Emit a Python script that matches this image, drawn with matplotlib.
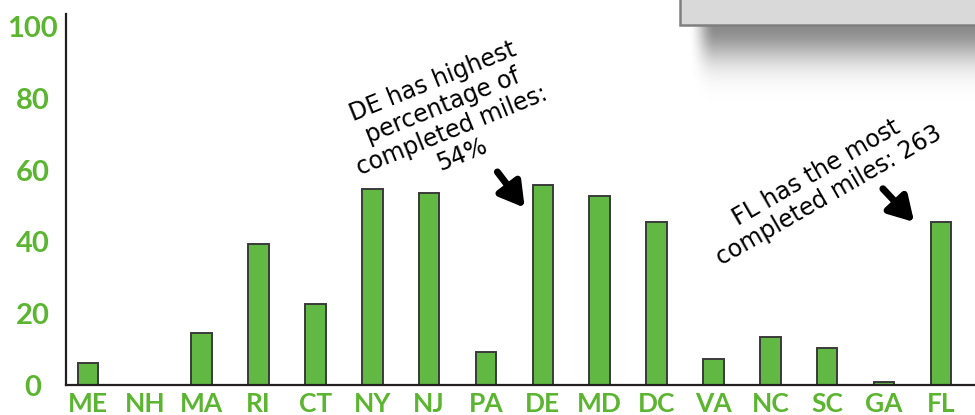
import numpy as np
from matplotlib import pyplot as plt
from matplotlib.patches import Rectangle

states = ['ME', 'NH', 'MA', 'RI', 'CT', 'NY', 'NJ', 'PA',
          'DE', 'MD', 'DC', 'VA', 'NC', 'SC', 'GA', 'FL']
pct_done = [6.1, 0, 14.5, 39.3, 22.7, 54.7, 53.7, 9.2,
            55.9, 52.9, 45.5, 7.3, 13.4, 10.3, 0.8, 45.5]
y_ticks = [0, 20, 40, 60, 80, 100]

green_bar = '#61b944'
green_txt = '#5cb531'

fig = plt.figure(figsize=(9.75, 4.15), dpi=100)
ax = fig.add_axes([66 / 975, 30 / 415, 1 - 66 / 975, 371 / 415])

x = np.arange(len(states))
ax.bar(x, pct_done, width=0.36, color=green_bar, edgecolor='#3a3a3a', linewidth=1.4)

ax.set_xlim(-0.387, 15.6)
ax.set_ylim(0, 103.6)
ax.set_xticks(x)
ax.set_xticklabels(states)
ax.set_yticks(y_ticks)

for s in ['top', 'right']:
    ax.spines[s].set_visible(False)
for s in ['left', 'bottom']:
    ax.spines[s].set_linewidth(1.6)
    ax.spines[s].set_color('#231f20')

ax.tick_params(axis='x', length=0, pad=5, labelsize=19, labelcolor=green_txt)
ax.tick_params(axis='y', length=0, pad=24, labelsize=21, labelcolor=green_txt)
for lab in ax.get_xticklabels():
    lab.set_fontfamily('Lato')
    lab.set_fontweight('bold')
for lab in ax.get_yticklabels():
    lab.set_fontfamily('Lato')
    lab.set_fontweight('bold')
    lab.set_horizontalalignment('center')

# notes
ax.text(6.32, 74.5, 'DE has highest\npercentage of\ncompleted miles:\n54%',
        rotation=22, rotation_mode='anchor', ha='center', va='center',
        multialignment='center', fontsize=17, family='DejaVu Sans', linespacing=1.12)
ax.text(12.92, 56.0, 'FL has the most\ncompleted miles: 263',
        rotation=30, rotation_mode='anchor', ha='center', va='center',
        multialignment='center', fontsize=17, family='DejaVu Sans', linespacing=1.12)

arrow = dict(arrowstyle='-|>,head_width=0.85,head_length=1.45', lw=5, color='black',
             shrinkA=0, shrinkB=0)
ax.annotate('', xy=(7.68, 49.5), xytext=(7.2, 59.5), arrowprops=arrow)
ax.annotate('', xy=(14.53, 45.5), xytext=(13.98, 54.8), arrowprops=arrow)

# grey box with shadow at top right
sh = fig.add_axes([660 / 975, (415 - 110) / 415, 315 / 975, 85 / 415])
sh.set_axis_off()
yy = np.linspace(25, 110, 120)[:, None]
xx = np.linspace(660, 975, 300)[None, :]
a = 0.46 * np.exp(-((yy - 25) / 35) ** 2)
edge = np.clip((xx - 688) / 27, 0, 1)
edge = edge * edge * (3 - 2 * edge)
img = np.zeros((120, 300, 4))
img[..., 3] = a * edge
sh.imshow(img, aspect='auto', extent=(0, 1, 0, 1), origin='upper')
sh.set_xlim(0, 1)
sh.set_ylim(0, 1)

fig.patches.append(Rectangle((680 / 975, (415 - 25) / 415), 300 / 975, 30 / 415,
                             transform=fig.transFigure, facecolor='#d9d9d9',
                             edgecolor='#7f7f7f', linewidth=1.8))

fig.savefig('out.png', dpi=100)
